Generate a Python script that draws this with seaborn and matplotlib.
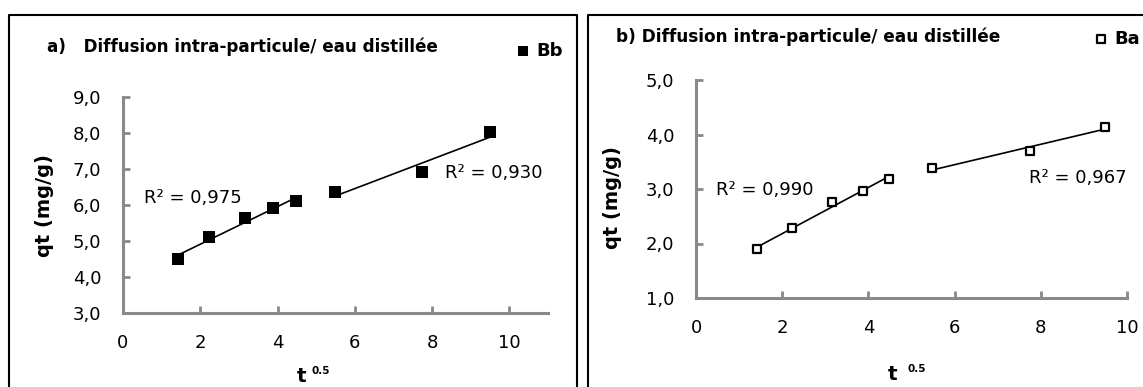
import matplotlib
matplotlib.use("Agg")
import matplotlib.pyplot as plt
import pandas as pd
import seaborn as sns
from matplotlib.lines import Line2D
from matplotlib.ticker import FuncFormatter, MultipleLocator

sns.set_theme(style="white")
plt.rcParams["font.family"] = ["DejaVu Sans"]
plt.rcParams["text.color"] = "black"

# ------------------------------------------------------------------
# Data
# ------------------------------------------------------------------
t_sqrt = [1.414, 2.236, 3.162, 3.873, 4.472, 5.477, 7.746, 9.487]
qt_bb = [4.49, 5.12, 5.63, 5.91, 6.10, 6.35, 6.92, 8.02]
qt_ba = [1.89, 2.29, 2.76, 2.97, 3.18, 3.38, 3.70, 4.14]
n_first = 5  # points in the first linear stage

r2_bb = ["0,975", "0,930"]
r2_ba = ["0,990", "0,967"]

title_a = "a)   Diffusion intra-particule/ eau distillée"
title_b = "b) Diffusion intra-particule/ eau distillée"

W, H = 1143, 387
GREY = "#898989"


def fx(px):
    return px / W


def fy(py):
    return 1 - py / H


fig = plt.figure(figsize=(W / 100, H / 100), dpi=100)

# panel frames (bottom edge runs off the image, as in the reference)
fig.add_artist(Line2D([fx(8.5), fx(8.5), fx(576.5), fx(576.5)],
                      [fy(400), fy(14.5), fy(14.5), fy(400)],
                      color="black", lw=1.5, transform=fig.transFigure))
fig.add_artist(Line2D([fx(588), fx(588), fx(1143)],
                      [fy(400), fy(14.5), fy(14.5)],
                      color="black", lw=1.5, transform=fig.transFigure))

axA = fig.add_axes([fx(123), fy(313), 425 / W, 216 / H])
axB = fig.add_axes([fx(696), fy(298), 431 / W, 218 / H])


def draw_panel(ax, qt, label, mkw, xlim, ylim, r2, r2_xy):
    df = pd.DataFrame({"t": t_sqrt, "qt": qt})
    for part in (df.iloc[:n_first], df.iloc[n_first:]):
        sns.regplot(data=part, x="t", y="qt", ax=ax, scatter=False, ci=None,
                    truncate=True, color="black", line_kws={"lw": 1.2})
    sns.scatterplot(data=df, x="t", y="qt", ax=ax, marker="s",
                    label=label, zorder=5, **mkw)
    ax.set_xlim(*xlim)
    ax.set_ylim(*ylim)
    ax.xaxis.set_major_locator(MultipleLocator(2))
    ax.yaxis.set_major_locator(MultipleLocator(1))
    ax.yaxis.set_major_formatter(
        FuncFormatter(lambda v, _: f"{v:.1f}".replace(".", ",")))
    ax.set_xlabel("")
    ax.set_ylabel("")
    for s in ("top", "right"):
        ax.spines[s].set_visible(False)
    for s in ("left", "bottom"):
        ax.spines[s].set_color(GREY)
        ax.spines[s].set_linewidth(2.2)
    ax.tick_params(bottom=True, left=True, direction="in", length=5,
                   width=2, color=GREY, labelsize=13, labelcolor="black")
    ax.tick_params(axis="y", pad=15.5)
    ax.tick_params(axis="x", pad=15)
    for txt, (x, y) in zip(r2, r2_xy):
        ax.text(x, y, f"R² = {txt}", fontsize=13, ha="left", va="center")
    ax.patch.set_alpha(0)


draw_panel(axA, qt_bb, "Bb",
           dict(s=68, color="black", edgecolor="black", linewidth=0),
           (0, 11), (3, 9), r2_bb, [(0.55, 6.2), (8.33, 6.89)])
draw_panel(axB, qt_ba, "Ba",
           dict(s=30, color="white", edgecolor="black", linewidth=1.6),
           (0, 10), (1, 5), r2_ba, [(0.46, 2.98), (7.73, 3.2)])

# legends at the top right of each frame
for ax, (lx, ly), msc in ((axA, (517, 51), 0.85), (axB, (1095, 39), 1.0)):
    ax.legend(loc="center left", bbox_to_anchor=(fx(lx), fy(ly)),
              bbox_transform=fig.transFigure, frameon=False, borderpad=0,
              borderaxespad=0, handlelength=0.7, handletextpad=0.35,
              markerscale=msc, prop={"weight": "bold", "size": 13})

# titles
fig.text(fx(47), fy(52), title_a, fontsize=12.1, fontweight="bold",
         va="baseline")
fig.text(fx(616), fy(42), title_b, fontsize=12.2, fontweight="bold",
         va="baseline")

# axis labels
for x, y in ((44, 206), (612, 198)):
    fig.text(fx(x), fy(y), "qt (mg/g)", rotation=90, ha="center",
             va="center", fontsize=14, fontweight="bold")
for tx, tb, sx, sb in ((297, 382, 312, 374), (888, 380, 908, 372)):
    fig.text(fx(tx), fy(tb), "t", fontsize=14.5, fontweight="bold",
             va="baseline")
    fig.text(fx(sx), fy(sb), "0.5", fontsize=7.5, fontweight="bold",
             va="baseline")

fig.savefig("out.png", dpi=100)
